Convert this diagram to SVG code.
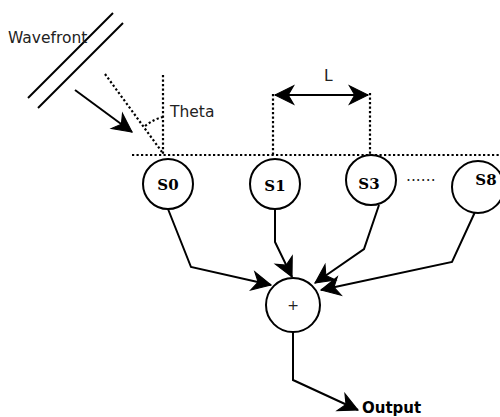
<svg xmlns="http://www.w3.org/2000/svg" width="500" height="417" viewBox="0 0 500 417">
  <style>
    .solid { fill: none; stroke: #000; stroke-width: 2; }
    .dot { fill: none; stroke: #000; stroke-width: 2.2; stroke-dasharray: 2.2 2.3; }
    .node { fill: #fff; stroke: #000; stroke-width: 2; }
    .lbl { font-family: "DejaVu Sans", Verdana, sans-serif; font-size: 15.5px; fill: #222; }
    .sensor { font-family: "DejaVu Serif", "Liberation Serif", serif; font-size: 15px; font-weight: bold; fill: #000; text-anchor: middle; }
  </style>
  <defs>
    <marker id="arrow" markerUnits="userSpaceOnUse" markerWidth="22" markerHeight="22" viewBox="-18 -10 19 20" refX="0" refY="0" orient="auto-start-reverse">
      <path d="M0,0 L-17,-8.5 L-12,0 L-17,8.5 Z" fill="#000" stroke="#000" stroke-width="1"/>
    </marker>
  </defs>

  <!-- wavefront and geometry -->
  <g id="wavefront">
    <line class="solid" x1="113" y1="13" x2="28" y2="98"/>
    <line class="solid" x1="123" y1="23" x2="38" y2="108"/>
    <text class="lbl" x="8" y="43">Wavefront</text>
  </g>
  <g id="geometry">
    <line class="dot" x1="105" y1="74" x2="162" y2="152"/>
    <line class="dot" x1="163" y1="75" x2="163" y2="155"/>
    <path class="dot" d="M145,126 Q154,119 163,117"/>
    <line class="dot" x1="132" y1="155" x2="500" y2="155"/>
    <line class="dot" x1="273" y1="94" x2="273" y2="155"/>
    <line class="dot" x1="370" y1="93" x2="370" y2="155"/>
    <text class="lbl" x="170" y="117">Theta</text>
    <text class="lbl" x="324" y="81">L</text>
    <text class="lbl" x="406" y="181">......</text>
  </g>

  <!-- connectors -->
  <g id="connectors">
    <line class="solid" x1="75" y1="90" x2="132" y2="132" marker-end="url(#arrow)"/>
    <line class="solid" x1="275" y1="95" x2="368" y2="95" marker-start="url(#arrow)" marker-end="url(#arrow)"/>
    <path class="solid" d="M168,209 L191,267 L271,285" marker-end="url(#arrow)"/>
    <path class="solid" d="M275,209 L275,242 L292,277" marker-end="url(#arrow)"/>
    <path class="solid" d="M379,205 L364,249 L315,283" marker-end="url(#arrow)"/>
    <path class="solid" d="M475,212 L452,262 L321,290" marker-end="url(#arrow)"/>
    <path class="solid" d="M293,332 L293,380 L358,410" marker-end="url(#arrow)"/>
  </g>

  <!-- sensors -->
  <g id="s0">
    <circle class="node" cx="168" cy="184" r="25"/>
    <text class="sensor" x="168" y="190">S0</text>
  </g>
  <g id="s1">
    <circle class="node" cx="275" cy="184" r="25"/>
    <text class="sensor" x="275" y="191">S1</text>
  </g>
  <g id="s3">
    <circle class="node" cx="371" cy="180" r="25"/>
    <text class="sensor" x="369" y="189">S3</text>
  </g>
  <g id="s8">
    <circle class="node" cx="478" cy="187" r="26"/>
    <text class="sensor" x="486" y="185">S8</text>
  </g>

  <!-- summing node -->
  <g id="sum">
    <circle class="node" cx="293" cy="305" r="27"/>
    <text x="293" y="310" font-family="DejaVu Sans, sans-serif" font-size="14" text-anchor="middle" fill="#222">+</text>
  </g>

  <g id="output">
    <text x="362" y="412.5" font-family="DejaVu Sans, Verdana, sans-serif" font-size="15" font-weight="bold" fill="#000">Output</text>
  </g>
</svg>
